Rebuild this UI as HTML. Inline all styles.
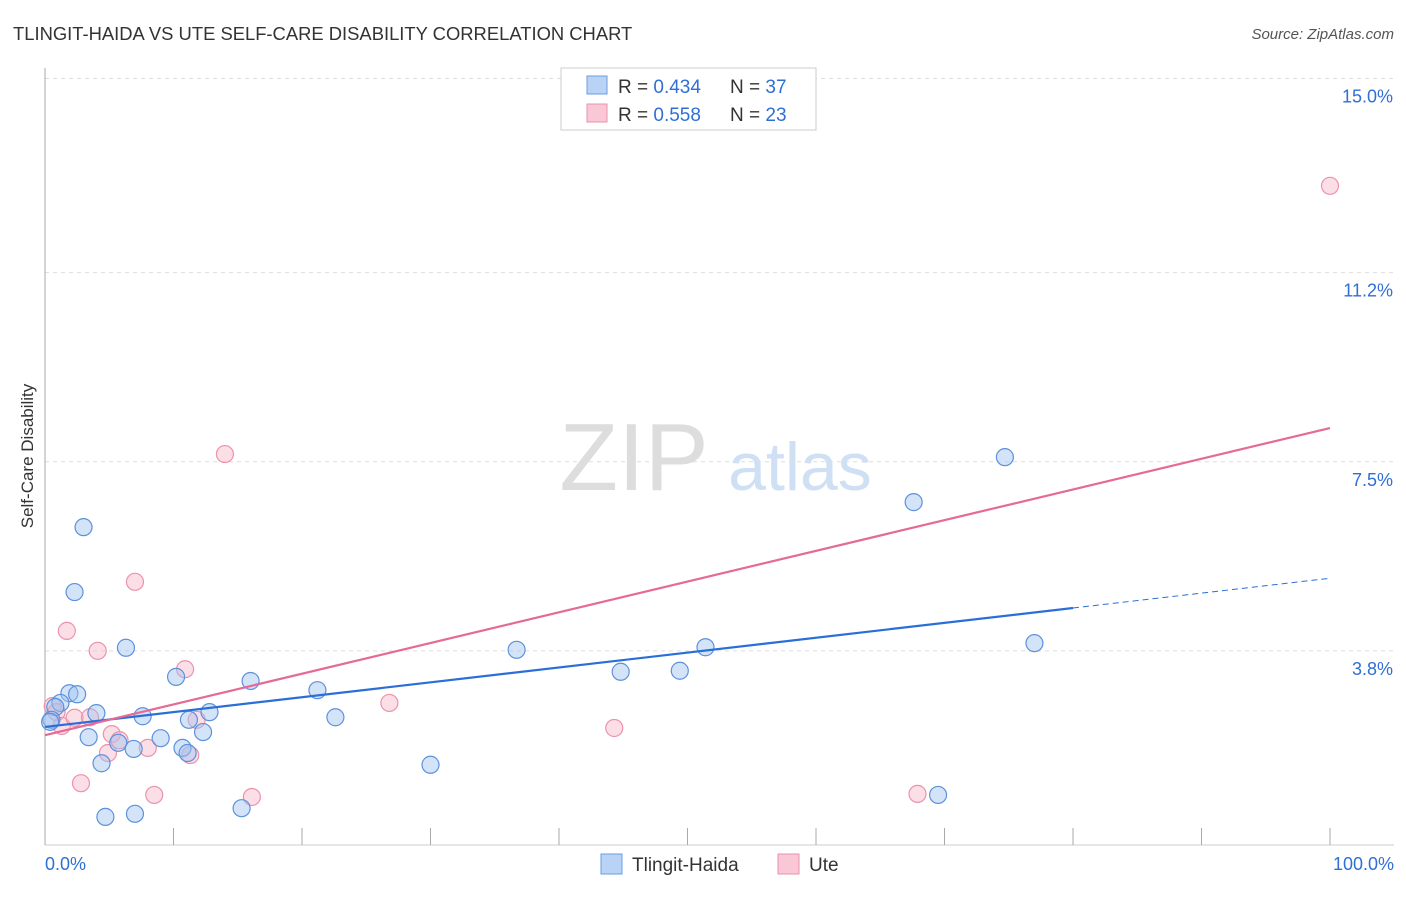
<!DOCTYPE html>
<html><head><meta charset="utf-8"><style>
body{margin:0;background:#fff;font-family:"Liberation Sans",sans-serif;}
svg text{font-family:"Liberation Sans",sans-serif;}
</style></head><body>
<svg id="c" width="1406" height="892">
<text x="13" y="40" font-size="18.4" fill="#333">TLINGIT-HAIDA VS UTE SELF-CARE DISABILITY CORRELATION CHART</text>
<text x="1394" y="39" font-size="15" fill="#555" font-style="italic" text-anchor="end">Source: ZipAtlas.com</text>
<text x="33" y="456" font-size="17" fill="#333" text-anchor="middle" transform="rotate(-90 33 456)">Self-Care Disability</text>
<text x="634" y="490" font-size="96" fill="#ddd" font-family="Liberation Serif" text-anchor="middle">ZIP</text>
<text x="800" y="490" font-size="68" fill="#cfe0f5" text-anchor="middle">atlas</text>
<g id="grid"></g><g id="marks"></g>
<g>
<rect x="561" y="68" width="255" height="62" fill="#fff" stroke="#ccc"/>
<rect x="587" y="76" width="20" height="18" fill="#b8d3f5" stroke="#6b9be0"/>
<rect x="587" y="104" width="20" height="18" fill="#f9c7d5" stroke="#e893ab"/>
<text x="618" y="93" font-size="19" fill="#333">R = <tspan fill="#2f6fd6">0.434</tspan></text>
<text x="730" y="93" font-size="19" fill="#333">N = <tspan fill="#2f6fd6">37</tspan></text>
<text x="618" y="121" font-size="19" fill="#333">R = <tspan fill="#2f6fd6">0.558</tspan></text>
<text x="730" y="121" font-size="19" fill="#333">N = <tspan fill="#2f6fd6">23</tspan></text>
</g>
<g>
<rect x="601" y="854" width="21" height="20" fill="#b8d3f5" stroke="#6b9be0"/>
<text x="632" y="871" font-size="19" fill="#333">Tlingit-Haida</text>
<rect x="778" y="854" width="21" height="20" fill="#f9c7d5" stroke="#e893ab"/>
<text x="809" y="871" font-size="19" fill="#333">Ute</text>
</g>
<text x="45" y="870" font-size="18" fill="#2f6fd6">0.0%</text>
<text x="1394" y="870" font-size="18" fill="#2f6fd6" text-anchor="end">100.0%</text>
</svg>
<script>
const yTicks=[15.0,11.2,7.5,3.8];
const yTickLabels=["15.0%","11.2%","7.5%","3.8%"];
const blueX=[3.0,2.3,6.3,1.9,2.5,1.2,0.8,0.5,0.4,4.0,3.4,4.4,5.7,6.9,7.6,9.0,10.2,10.7,11.1,11.2,12.3,12.8,16.0,15.3,4.7,7.0,21.2,22.6,30.0,36.7,44.8,49.4,51.4,67.6,74.7,69.5,77.0];
const blueY=[6.22,4.95,3.86,2.97,2.95,2.78,2.70,2.45,2.41,2.58,2.11,1.60,2.00,1.88,2.52,2.09,3.29,1.90,1.80,2.45,2.21,2.60,3.21,0.72,0.55,0.61,3.03,2.50,1.57,3.82,3.39,3.41,3.87,6.71,7.59,0.98,3.95];
const pinkX=[14.0,7.0,1.7,4.1,10.9,0.6,0.9,1.3,2.3,3.5,5.2,4.9,5.8,8.0,11.3,11.8,2.8,8.5,16.1,26.8,44.3,67.9,100];
const pinkY=[7.65,5.15,4.19,3.80,3.44,2.72,2.60,2.33,2.49,2.50,2.17,1.80,2.05,1.90,1.76,2.45,1.21,0.98,0.94,2.78,2.29,1.00,12.9];
const blueFit=[2.31,0.0291];
const pinkFit=[2.15,0.0601];
const X=v=>45+v*12.85, Y=v=>845-v*51.1;
const NS="http://www.w3.org/2000/svg";
const grid=document.getElementById('grid'), marks=document.getElementById('marks');
function mk(t,a,p){const e=document.createElementNS(NS,t);for(const k in a)e.setAttribute(k,a[k]);p.appendChild(e);return e;}
yTicks.forEach((v,i)=>{
 const l=mk('line',{x1:45,x2:1394,y1:Y(v),y2:Y(v),stroke:'#ddd','stroke-dasharray':'4,4'},grid);
 
 
 const t=mk('text',{x:1393,y:Y(v)+24,'font-size':18,fill:'#2f6fd6','text-anchor':'end'},grid);
 t.textContent=yTickLabels[i];
 
 
});
const ax=mk('line',{x1:45,x2:45,y1:68,y2:845,stroke:'#aaa'},grid);


const bx=mk('line',{x1:45,x2:1394,y1:845,y2:845,stroke:'#ccc'},grid);


for(let i=0;i<=10;i++){
 const t=mk('line',{x1:X(i*10),x2:X(i*10),y1:828,y2:845,stroke:'#aaa'},grid);
 
 
}
pinkX.forEach((x,i)=>{
 const c=mk('circle',{cx:X(x),cy:Y(pinkY[i]),r:8.5,fill:'rgba(248,182,202,0.45)',stroke:'#eb93ad','stroke-width':1.2},marks);
 
 
});
blueX.forEach((x,i)=>{
 const c=mk('circle',{cx:X(x),cy:Y(blueY[i]),r:8.5,fill:'rgba(160,196,240,0.45)',stroke:'#5d91dc','stroke-width':1.2},marks);
 
 
});
const bl=mk('line',{x1:X(0),y1:Y(blueFit[0]),x2:X(80),y2:Y(blueFit[0]+blueFit[1]*80),stroke:'#2a6fd8','stroke-width':2.2},marks);


const bd=mk('line',{x1:X(80),y1:Y(blueFit[0]+blueFit[1]*80),x2:X(100),y2:Y(blueFit[0]+blueFit[1]*100),stroke:'#2a6fd8','stroke-width':1,'stroke-dasharray':'6,4'},marks);


const pl=mk('line',{x1:X(0),y1:Y(pinkFit[0]),x2:X(100),y2:Y(pinkFit[0]+pinkFit[1]*100),stroke:'#e56a95','stroke-width':2.2},marks);


</script>
</body></html>
